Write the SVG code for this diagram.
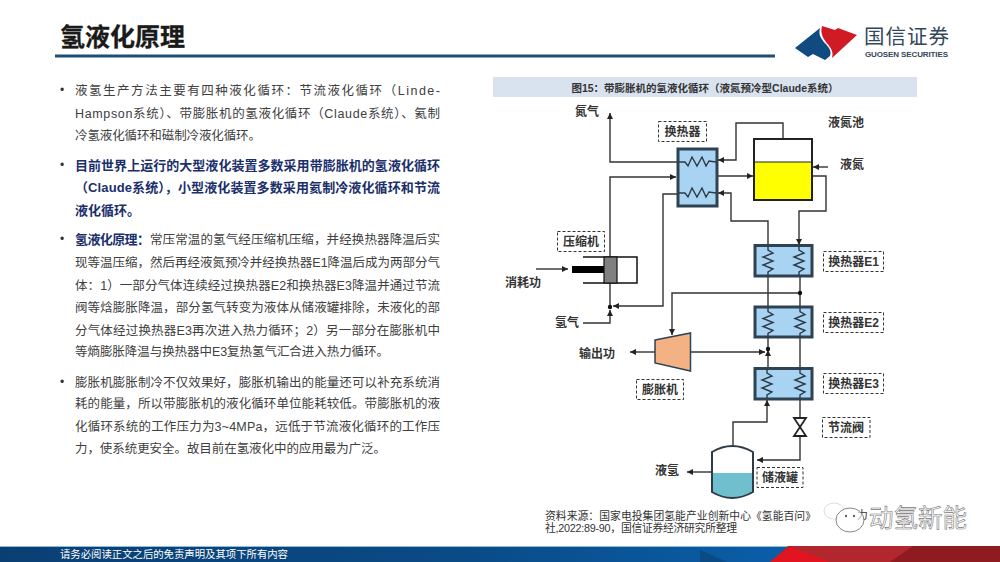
<svg xmlns="http://www.w3.org/2000/svg" width="1000" height="562" viewBox="0 0 1000 562">
<style>
text{font-family:"Liberation Sans","Noto Sans CJK SC",sans-serif}
.b{font-size:12.5px;fill:#404040}
.h{font-size:13px;font-weight:bold;fill:#1b2f6b}
.l{font-size:12px;font-weight:bold;fill:#333;text-anchor:middle}
.s{font-size:10.8px;fill:#333}
.c{fill:none;stroke:#333;stroke-width:1.4}
.hx{fill:#a9d3f2;stroke:#2f4252;stroke-width:3}
.d{fill:#fff;stroke:#333;stroke-width:1;stroke-dasharray:3 2}
.coil{fill:none;stroke:#2b3a46;stroke-width:1.4}
</style>
<defs>
<marker id="a" markerUnits="userSpaceOnUse" markerWidth="7" markerHeight="6" refX="6" refY="3" orient="auto"><path d="M0 0L6 3L0 6Z" fill="#222"/></marker>
<polyline id="ch" points="0,0 6,0 9,4 13,-5 18,4 23,-5 27,4 30,-1 37,0"/>
<polyline id="cv" points="0,0 0,5 5,8 -5,12 5,16 -5,20 5,24 0,27 0,31"/>
<linearGradient id="fb" x1="0" x2="1" y1="0" y2="0"><stop offset="0" stop-color="#0a3f73"/><stop offset=".45" stop-color="#0a4a85"/><stop offset="1" stop-color="#0b6abf"/></linearGradient>
</defs>
<rect width="1000" height="562" fill="#fff"/>

<g id="header">
<text x="60" y="46" font-size="25" font-weight="bold" fill="#1a1a1a" stroke="#1a1a1a" stroke-width=".3">氢液化原理</text>
<rect x="55" y="54.500" width="720" height="3" fill="#1a5078"/>
</g>
<g id="logo">
<path d="M795 48L820 28C816 42 834 45 830 56L825 60L813 54L808 57Z" fill="#0f4a80"/>
<path d="M822 26L835 30L838 28L857 35L832 58C836 45 818 42 822 26Z" fill="#d01a24"/>
<text x="864" y="44" font-size="20.500" fill="#33475a" textLength="85">国信证券</text>
<text x="865" y="57" font-size="8" font-weight="bold" fill="#33475a" textLength="83">GUOSEN SECURITIES</text>
</g>

<g id="body">
<g fill="#333" font-size="12"><text x="60" y="94">•</text><text x="60" y="169">•</text><text x="60" y="243">•</text><text x="60" y="386">•</text></g>
<text class="b" x="75" y="94.500" textLength="365">液氢生产方法主要有四种液化循环：节流液化循环（Linde-</text>
<text class="b" x="75" y="117.500" textLength="365">Hampson系统）、带膨胀机的氢液化循环（Claude系统）、氦制</text>
<text class="b" x="75" y="139.500" textLength="186">冷氢液化循环和磁制冷液化循环。</text>
<text class="h" x="75" y="169.500" textLength="365">目前世界上运行的大型液化装置多数采用带膨胀机的氢液化循环</text>
<text class="h" x="75" y="191.500" textLength="365">（Claude系统），小型液化装置多数采用氦制冷液化循环和节流</text>
<text class="h" x="75" y="214.500">液化循环。</text>
<text class="h" x="75" y="243.500" textLength="75">氢液化原理：</text>
<text class="b" x="150" y="243.500" textLength="290">常压常温的氢气经压缩机压缩，并经换热器降温后实</text>
<text class="b" x="75" y="266.500" textLength="365">现等温压缩，然后再经液氮预冷并经换热器E1降温后成为两部分气</text>
<text class="b" x="75" y="289.500" textLength="365">体：1）一部分气体连续经过换热器E2和换热器E3降温并通过节流</text>
<text class="b" x="75" y="311.500" textLength="365">阀等焓膨胀降温，部分氢气转变为液体从储液罐排除，未液化的部</text>
<text class="b" x="75" y="334.500" textLength="365">分气体经过换热器E3再次进入热力循环；2）另一部分在膨胀机中</text>
<text class="b" x="75" y="355.500" textLength="314">等熵膨胀降温与换热器中E3复热氢气汇合进入热力循环。</text>
<text class="b" x="75" y="386.500" textLength="365">膨胀机膨胀制冷不仅效果好，膨胀机输出的能量还可以补充系统消</text>
<text class="b" x="75" y="407.500" textLength="365">耗的能量，所以带膨胀机的液化循环单位能耗较低。带膨胀机的液</text>
<text class="b" x="75" y="430.500" textLength="365">化循环系统的工作压力为3~4MPa，远低于节流液化循环的工作压</text>
<text class="b" x="75" y="452.500" textLength="311">力，使系统更安全。故目前在氢液化中的应用最为广泛。</text>
</g>

<g id="banner">
<rect x="493" y="77" width="424" height="20" fill="#d9e2ef"/>
<text x="705" y="92" font-size="10.500" font-weight="bold" fill="#333" text-anchor="middle">图15：带膨胀机的氢液化循环（液氮预冷型Claude系统）</text>
</g>

<g id="connectors">
<path class="c" d="M677 162H610V113" marker-end="url(#a)"/>
<path class="c" d="M610 257V177H676" marker-end="url(#a)"/>
<path class="c" d="M677 194H663V306H613" marker-end="url(#a)"/>
<path class="c" d="M783 139V123H736V160H718" marker-end="url(#a)"/>
<path class="c" d="M717 176H753" marker-end="url(#a)"/>
<path class="c" d="M828 167H813" marker-end="url(#a)"/>
<path class="c" d="M812 176H826V211H799V245" marker-end="url(#a)"/>
<path class="c" d="M768 245V221H731V193H718" marker-end="url(#a)"/>
<path class="c" d="M800 276V368M768 276V349"/>
<path class="c" d="M768 368V350" marker-end="url(#a)"/>
<path class="c" d="M800 293H672V335" marker-end="url(#a)"/>
<path class="c" d="M691 352H765" marker-end="url(#a)"/>
<path class="c" d="M655 352H630" marker-end="url(#a)"/>
<path class="c" d="M733 445V422H767V400" marker-end="url(#a)"/>
<path class="c" d="M800 399V418"/>
<path class="c" d="M800 436V460H757" marker-end="url(#a)"/>
<path class="c" d="M712 472H687" marker-end="url(#a)"/>
<path class="c" d="M536 269H568" marker-end="url(#a)"/>
<path class="c" d="M610 283V306"/>
<path class="c" d="M583 323H610V310" marker-end="url(#a)"/>
<g fill="#111"><circle cx="800" cy="293" r="2.200"/><circle cx="768" cy="349" r="2.200"/><circle cx="610" cy="307" r="2.200"/></g>
</g>

<g id="hx-main">
<rect class="hx" x="678" y="149" width="39" height="57"/>
<use href="#ch" class="coil" x="679" y="162"/>
<use href="#ch" class="coil" x="679" y="193"/>
<rect class="d" x="658.500" y="121.500" width="48" height="20"/>
<text class="l" x="682.500" y="136">换热器</text>
</g>
<g id="ln2-pool">
<rect x="754.500" y="162" width="57" height="37.500" fill="#ffff00" stroke="#222" stroke-width="1"/>
<rect x="754" y="139" width="58" height="61" fill="none" stroke="#222" stroke-width="2"/>
<text class="l" x="846" y="127">液氮池</text>
<text class="l" x="852" y="169">液氮</text>
</g>
<g id="n2"><text class="l" x="587" y="116">氮气</text></g>
<g id="e1">
<rect class="hx" x="755" y="245.500" width="57" height="30.500"/>
<use href="#cv" class="coil" x="768" y="245"/><use href="#cv" class="coil" x="799" y="245"/>
<rect class="d" x="823.500" y="251.500" width="60" height="20"/><text class="l" x="853.500" y="266">换热器E1</text>
</g>
<g id="e2">
<rect class="hx" x="755" y="307" width="57" height="30"/>
<use href="#cv" class="coil" x="768" y="306.500"/><use href="#cv" class="coil" x="800" y="306.500"/>
<rect class="d" x="823.500" y="312.500" width="60" height="20"/><text class="l" x="853.500" y="327">换热器E2</text>
</g>
<g id="e3">
<rect class="hx" x="755" y="368.500" width="57" height="30.500"/>
<use href="#cv" class="coil" x="767" y="368"/><use href="#cv" class="coil" x="800" y="368"/>
<rect class="d" x="823.500" y="373.500" width="60" height="20"/><text class="l" x="853.500" y="388">换热器E3</text>
</g>
<g id="compressor">
<path d="M583 257H637V283H583" fill="#fff" stroke="#111" stroke-width="1.500"/>
<rect x="572" y="266" width="32" height="7" fill="#000"/>
<rect x="604" y="257" width="13" height="26" fill="#808080" stroke="#111" stroke-width="1.200"/>
<rect class="d" x="557.500" y="231.500" width="47" height="20"/><text class="l" x="581" y="246">压缩机</text>
<text class="l" x="523" y="287">消耗功</text>
<text class="l" x="567" y="327">氢气</text>
</g>
<g id="expander">
<path d="M655 340L690.500 333V371L655 363Z" fill="#f4b183" stroke="#2f4252" stroke-width="1.500"/>
<text class="l" x="597" y="358">输出功</text>
<rect class="d" x="636.500" y="379.500" width="47" height="20"/><text class="l" x="660" y="394">膨胀机</text>
</g>
<g id="valve">
<path d="M794 418H806L794 436H806Z" fill="#fff" stroke="#222" stroke-width="1.800"/>
<rect class="d" x="822.500" y="417.500" width="47.500" height="20"/><text class="l" x="846" y="432">节流阀</text>
</g>
<g id="receiver">
<path d="M712 473H753V492Q732 504 712 492Z" fill="#6fbfcf"/>
<path d="M712 452Q732 440 753 452V492Q732 504 712 492Z" fill="none" stroke="#2f3b45" stroke-width="2"/>
<text class="l" x="667" y="475">液氢</text>
<rect class="d" x="757" y="467.500" width="46" height="20"/><text class="l" x="780" y="482">储液罐</text>
</g>

<g id="source">
<text class="s" x="545" y="520" textLength="271">资料来源：国家电投集团氢能产业创新中心《氢能百问》</text>
<text class="s" x="545" y="532" textLength="192">社,2022:89-90，国信证券经济研究所整理</text>
<text class="s" x="857" y="519">力</text>
</g>
<g id="watermark">
<ellipse cx="834" cy="511" rx="10" ry="8" fill="#fff" stroke="#ddd"/>
<ellipse cx="850" cy="520" rx="14" ry="12" fill="#fff" fill-opacity=".6" stroke="#888"/>
<circle cx="846" cy="516" r="1.200" fill="#666"/><circle cx="854" cy="516" r="1.200" fill="#666"/>
<text x="869" y="527" font-size="24.500" fill="#fff" stroke="#777" stroke-width=".6">动氢新能</text>
</g>

<g id="footer">
<rect y="546" width="1000" height="16" fill="url(#fb)"/>
<rect y="546" width="790" height="1" fill="#8fbbdc"/>
<path d="M700 550L727 562H700Z" fill="#0a4a85"/>
<path d="M788 546H1000V562H770Z" fill="#b2262e"/>
<path d="M913 546H1000V562H890Z" fill="#8e1b20"/>
<path d="M770 562L790 547L830 562Z" fill="#e1141f"/>
<text x="60" y="558" font-size="10.400" fill="#fff" textLength="228">请务必阅读正文之后的免责声明及其项下所有内容</text>
</g>
</svg>
